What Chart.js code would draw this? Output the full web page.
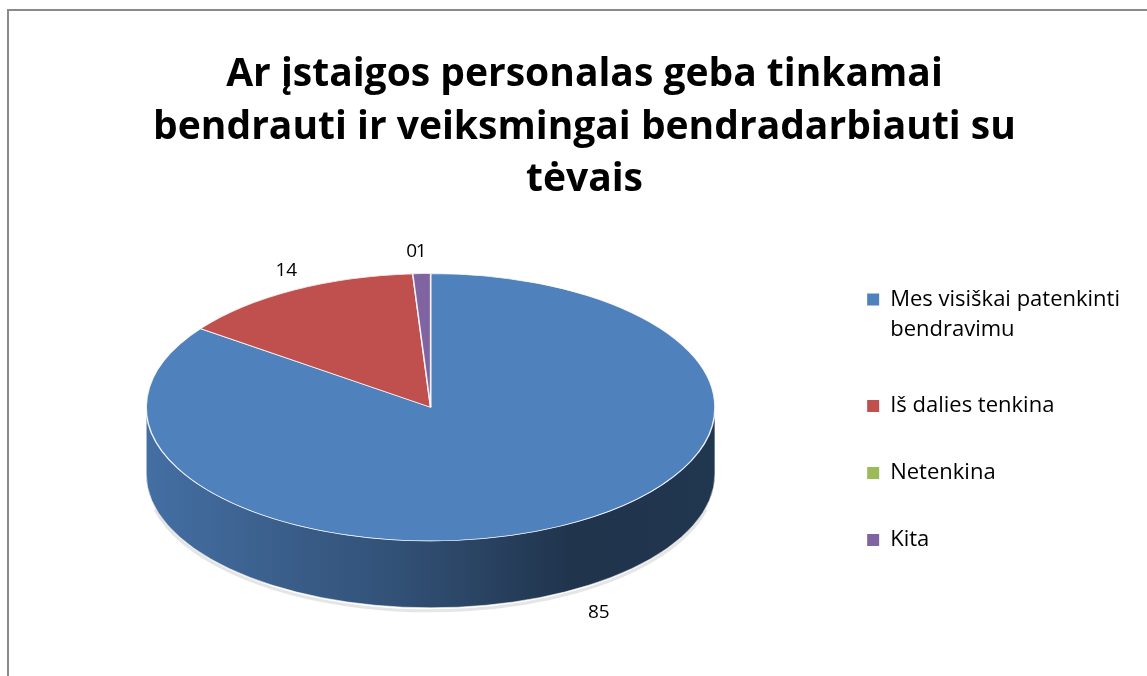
<!DOCTYPE html>
<html>
<head>
<meta charset="utf-8">
<script src="https://cdn.jsdelivr.net/npm/chart.js@4.4.1/dist/chart.umd.min.js"></script>
<style>
  html, body { margin: 0; padding: 0; background: #fff; }
  #wrap { position: relative; width: 1147px; height: 676px; overflow: hidden; }
  #frame { position: absolute; left: 7px; top: 9px; width: 1300px; height: 800px;
           border-left: 2px solid #8a8a8a; border-top: 2px solid #8a8a8a; }
  canvas { position: absolute; left: 0; top: 0; }
</style>
</head>
<body>
<div id="wrap">
  <div id="frame"></div>
  <canvas id="chart" width="1147" height="676"></canvas>
</div>
<script>
const titleLines = [
	"Ar įstaigos personalas geba tinkamai",
	"bendrauti ir veiksmingai bendradarbiauti su",
	"tėvais"
];
const categories = [
	["Mes visiškai patenkinti", "bendravimu"],
	"Iš dalies tenkina",
	"Netenkina",
	"Kita"
];
const values = [85, 14, 0, 1];
const colors = ["#4F81BD", "#C0504D", "#9BBB59", "#8064A2"];

// fake 3D: stretch the flat pie into an ellipse and hang a wall under it
const widen = 1.51;
const squash = 0.47;
const depth = 67;

function shade(hex, f) {
	const n = parseInt(hex.slice(1), 16);
	const r = Math.round(((n >> 16) & 255) * f);
	const g = Math.round(((n >> 8) & 255) * f);
	const b = Math.round((n & 255) * f);
	return "rgb(" + r + "," + g + "," + b + ")";
}

function geom(chart) {
	const arc = chart.getDatasetMeta(0).data[0];
	const rx = arc.outerRadius * widen;
	return { cx: arc.x, cy: arc.y, rx: rx, ry: rx * squash };
}

const pie3d = {
	id: "pie3d",
	beforeDatasetsDraw(chart) {
		const ctx = chart.ctx;
		const g = geom(chart);
		const arcs = chart.getDatasetMeta(0).data;

		ctx.save();
		// faint shadow along the bottom rim
		ctx.beginPath();
		ctx.ellipse(g.cx, g.cy + depth + 2, g.rx, g.ry + 1, 0, 0.25, Math.PI - 0.25);
		ctx.strokeStyle = "rgba(0,0,0,0.1)";
		ctx.lineWidth = 3;
		ctx.stroke();

		arcs.forEach((arc, i) => {
			[0, 2 * Math.PI, -2 * Math.PI].forEach((off) => {
				const a = Math.max(arc.startAngle, off);
				const b = Math.min(arc.endAngle, off + Math.PI);
				if (b <= a) return;
				ctx.beginPath();
				ctx.ellipse(g.cx, g.cy, g.rx, g.ry, 0, a, b, false);
				ctx.ellipse(g.cx, g.cy + depth, g.rx, g.ry, 0, b, a, true);
				ctx.closePath();
				const grad = ctx.createLinearGradient(g.cx - g.rx, 0, g.cx + g.rx, 0);
				grad.addColorStop(0, shade(colors[i], 0.86));
				grad.addColorStop(0.45, shade(colors[i], 0.62));
				grad.addColorStop(0.75, shade(colors[i], 0.4));
				grad.addColorStop(1, shade(colors[i], 0.42));
				ctx.fillStyle = grad;
				ctx.fill();
				ctx.strokeStyle = "rgba(255,255,255,0.55)";
				ctx.lineWidth = 1;
				ctx.stroke();
			});
		});
		ctx.restore();

		ctx.save();
		ctx.translate(g.cx, g.cy);
		ctx.scale(widen, widen * squash);
		ctx.translate(-g.cx, -g.cy);
	},
	afterDatasetsDraw(chart) {
		const ctx = chart.ctx;
		ctx.restore();
		const g = geom(chart);
		ctx.save();
		ctx.font = "19px 'Open Sans'";
		ctx.fillStyle = "#000";
		ctx.textAlign = "center";
		ctx.textBaseline = "middle";
		chart.getDatasetMeta(0).data.forEach((arc, i) => {
			const mid = (arc.startAngle + arc.endAngle) / 2;
			const c = Math.cos(mid);
			const s = Math.sin(mid);
			// front labels sit further out, past the wall
			const out = 15 + 80 * Math.max(s, 0);
			const x = g.cx + (g.rx + out) * c;
			const y = g.cy + (g.ry + 22) * s + (s > 0 ? depth : 0);
			ctx.fillText(String(values[i]), x, y);
		});
		ctx.restore();
	}
};

const legendDefaults = Chart.overrides.pie.plugins.legend.labels.generateLabels;

new Chart(document.getElementById("chart"), {
	type: "pie",
	data: {
		labels: categories,
		datasets: [
			{
				data: values,
				backgroundColor: colors,
				borderColor: "rgba(255,255,255,0.85)",
				borderWidth: 1
			}
		]
	},
	options: {
		responsive: false,
		animation: false,
		layout: {
			padding: { left: 39, right: 17, top: 0, bottom: 80 }
		},
		plugins: {
			title: {
				display: true,
				text: titleLines,
				color: "#000",
				font: { family: "Open Sans", size: 39, weight: "bold", lineHeight: 1.345 },
				padding: { top: 49, bottom: 12 }
			},
			legend: {
				position: "right",
				align: "end",
				labels: {
					boxWidth: 12,
					boxHeight: 12,
					padding: 45,
					color: "#000",
					font: { family: "Open Sans", size: 22, lineHeight: 1.4 },
					generateLabels(chart) {
						return legendDefaults(chart).map((item) => {
							item.strokeStyle = item.fillStyle;
							item.lineWidth = 0;
							return item;
						});
					}
				}
			},
			tooltip: { enabled: false }
		}
	},
	plugins: [pie3d]
});
</script>
</body>
</html>
